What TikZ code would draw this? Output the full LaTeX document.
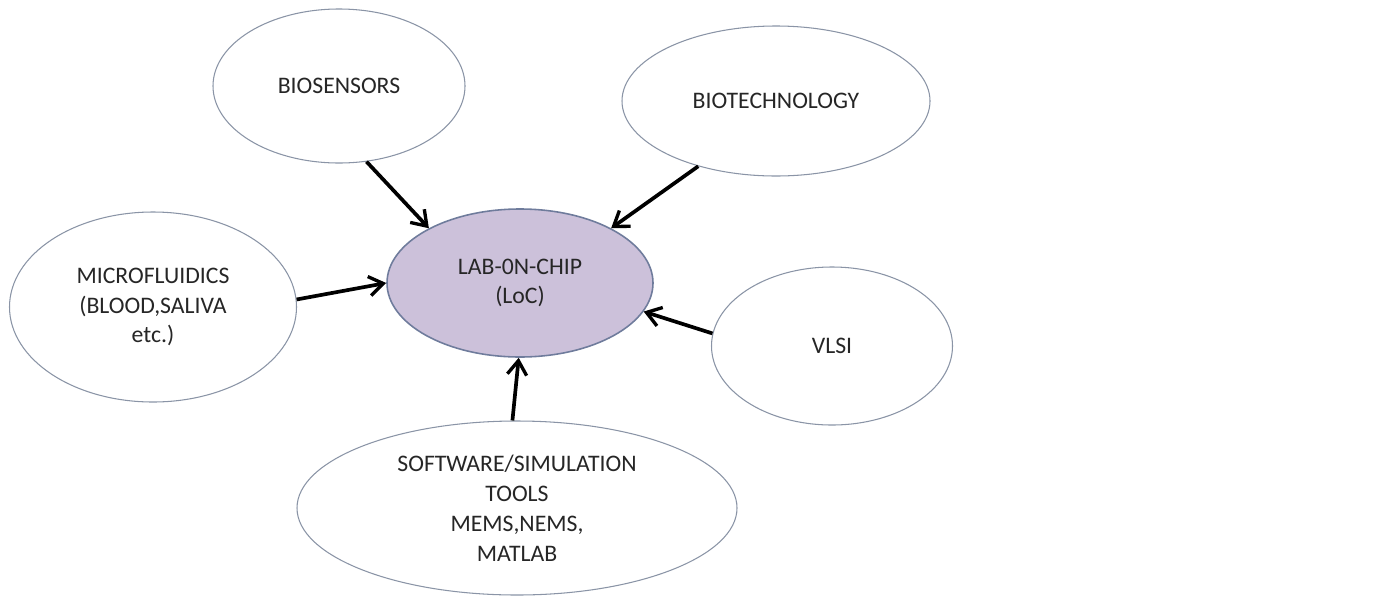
\documentclass[tikz,border=0pt]{standalone}
\usepackage{fontspec}
\setmainfont{Carlito}
\usepackage{xcolor}
\usetikzlibrary{shapes,shapes.geometric,arrows,arrows.meta,positioning}

\definecolor{rimgray}{HTML}{8A94A6}
\definecolor{locfill}{HTML}{CCC1DA}
\definecolor{locrim}{HTML}{6F7C9C}
\definecolor{txtgray}{HTML}{262626}

\begin{document}
\begin{tikzpicture}[
    x=0.02cm, y=-0.02cm,
    >={Straight Barb[length=8pt,width=11pt,line width=1.9pt]},
    field/.style={ellipse, draw=rimgray, line width=0.6pt, fill=white, inner sep=0pt,
        align=center, text=txtgray, font=\fontsize{13.5}{17}\selectfont},
    core/.style={field, draw=locrim, fill=locfill, line width=0.9pt},
    feed/.style={->, line width=2.1pt, black}
]
\useasboundingbox[fill=white] (0,0) rectangle (1385,599);

% Centre node
\node[core, minimum width=266*0.02cm, minimum height=148*0.02cm] (loc) at (520,283) {LAB-0N-CHIP\\(LoC)};

% Surrounding fields
\node[field, minimum width=252*0.02cm, minimum height=154*0.02cm] (biosens) at (339,86) {BIOSENSORS};
\node[field, minimum width=308*0.02cm, minimum height=150*0.02cm] (biotech) at (776,101) {BIOTECHNOLOGY};
\node[field, minimum width=287*0.02cm, minimum height=190*0.02cm] (micro) at (153,307) {MICROFLUIDICS\\(BLOOD,SALIVA\\etc.)};
\node[field, minimum width=241*0.02cm, minimum height=158*0.02cm] (vlsi) at (832,346) {VLSI};
\node[field, minimum width=440*0.02cm, minimum height=174*0.02cm] (soft) at (517,508) {SOFTWARE/SIMULATION\\TOOLS\\MEMS,NEMS,\\MATLAB};

% Arrows into LoC
\draw[feed] (biosens.-70) -- (loc.149);
\draw[feed] (biotech.-140) -- (loc.31);
\draw[feed] (micro.3) -- (loc.180);
\draw[feed] (vlsi.174) -- (loc.-13);
\draw[feed] (soft.93) -- (loc.-91);

\end{tikzpicture}
\end{document}
